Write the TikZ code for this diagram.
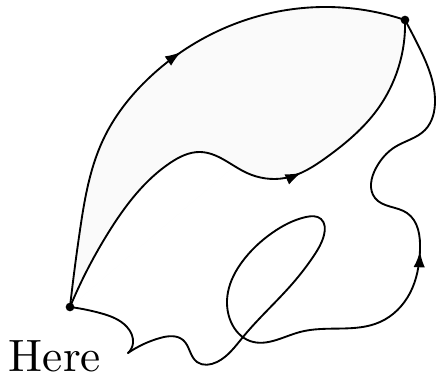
\documentclass[tikz,border=0pt]{standalone}
\usetikzlibrary{decorations.markings,arrows.meta,hobby}
\begin{document}
\begin{tikzpicture}[x=0.75pt,y=-0.75pt,
  curve/.style={line width=1.4pt, line join=round, line cap=round, use Hobby shortcut},
  arrowat/.style={postaction={decorate},decoration={markings,mark=at position #1 with {\arrow{Latex[length=12pt,width=8.5pt]}}}},
  dot/.style={circle,fill=black,inner sep=0pt,minimum size=6.5pt}]
\useasboundingbox (0,0) rectangle (438,377);
\coordinate (A) at (70,307);
\coordinate (B) at (405,20);
\coordinate (C) at (128,353);
% light fill between top arc and middle path
\path[use Hobby shortcut, fill=black!2, even odd rule]
  (A) .. (80,230) .. (103,140) .. (150,77) .. (227,27) .. (327,7) .. (B) -- (A)
  (A) .. (110,230) .. (170,163) .. (200,152) .. (247,173) .. (285,178) .. (327,157) .. (377,110) .. (B) -- (A);
% top arc
\draw[curve,arrowat=0.553] (A) .. (80,230) .. (103,140) .. (150,77) .. (227,27) .. (327,7) .. (B);
% middle path
\draw[curve,arrowat=0.62] (A) .. (110,230) .. (170,163) .. (200,152) .. (247,173) .. (285,178) .. (327,157) .. (377,110) .. (B);
% outer path, part 1
\draw[curve] (A) .. (100,313) .. (127,327) .. (133,343) .. (C);
% outer path, part 2
\draw[curve,arrowat=0.705] (C) .. (160,338) .. (183,340) .. (197,362) .. (217,362) .. (243,337) .. (293,283) .. (313,257) .. (324,235) .. (321,219) .. (306,217) .. (272,233) .. (242,262) .. (228,292) .. (231,322) .. (250,341) .. (300,332) .. (380,322) .. (410,293) .. (420,250) .. (407,213) .. (375,198) .. (376,168) .. (395,147) .. (425,130) .. (435,100) .. (418,45) .. (B);
\node[dot] (a) at (A) {};
\node[dot] (b) at (B) {};
\node[anchor=base west, inner sep=0pt, scale=3.4] (here) at (8,371) {Here};
\end{tikzpicture}
\end{document}
